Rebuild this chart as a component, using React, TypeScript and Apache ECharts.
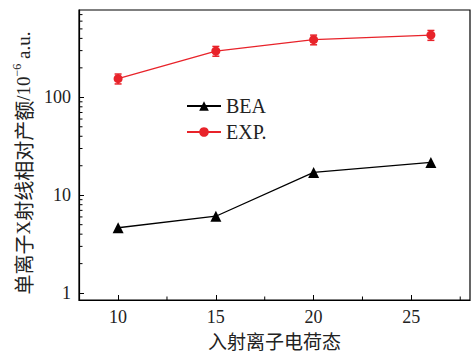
import React, { useEffect, useRef } from "react";
import * as echarts from "echarts";

const chargeStates = [10, 15, 20, 26];
const beaValues = [4.65, 6.1, 17.1, 21.6];
const expValues = [155, 297, 388, 432];
const expErrors = [18, 34, 44, 50];
const xTickValues = [10, 15, 20, 25];
const xMinorTicks = [12.5, 17.5, 22.5, 27.5];
const yMinorTicks = [2, 3, 4, 5, 6, 7, 8, 9, 20, 30, 40, 50, 60, 70, 80, 90, 200, 300, 400, 500, 600, 700];

const SERIF = "'Liberation Serif', 'Noto Sans CJK SC', serif";
const CJK = "'Noto Sans CJK SC', 'Liberation Serif', sans-serif";

export default function App() {
  const ref = useRef<HTMLDivElement>(null);
  useEffect(() => {
    if (!ref.current) return;
    const chart = echarts.init(ref.current, null, { renderer: "svg" });
    const X_MIN = 8;
    const X_MAX = 28;
    const option: any = {
      animation: false,
      backgroundColor: "#ffffff",
      grid: {
        left: 79,
        right: 2,
        top: 10,
        bottom: 51,
        show: true,
        borderColor: "#000",
        borderWidth: 1.2,
        containLabel: false,
        outerBoundsMode: "none",
      },
      legend: {
        left: 181,
        top: 91,
        orient: "vertical",
        itemWidth: 34,
        itemHeight: 12,
        itemGap: 6,
        data: ["BEA", "EXP."],
        textStyle: { fontFamily: SERIF, fontSize: 20, color: "#222" },
      },
      xAxis: {
        type: "value",
        min: X_MIN,
        max: X_MAX,
        name: "入射离子电荷态",
        nameLocation: "middle",
        nameGap: 26,
        nameTextStyle: { fontFamily: CJK, fontSize: 19, lineHeight: 19, color: "#222" },
        axisLine: { lineStyle: { color: "#000", width: 1.2 } },
        axisTick: { inside: true, length: 5, customValues: xTickValues, lineStyle: { color: "#000" } },
        axisLabel: { customValues: xTickValues, fontFamily: SERIF, fontSize: 18, color: "#222", margin: 8 },
        splitLine: { show: false },
      },
      yAxis: {
        type: "log",
        logBase: 10,
        min: 0.85,
        max: 780,
        name: "{c|单离子}{l|X}{c|射线相对产额}{l|/10}{s|−6}{l| a.u.}",
        nameLocation: "middle",
        nameGap: 43,
        nameTextStyle: {
          color: "#222",
          padding: [0, 16, 0, 0],
          rich: {
            c: { fontFamily: CJK, fontSize: 20, color: "#222", lineHeight: 22, verticalAlign: "bottom" },
            l: { fontFamily: SERIF, fontSize: 19, color: "#222", lineHeight: 22, verticalAlign: "bottom" },
            s: { fontFamily: SERIF, fontSize: 12, color: "#222", lineHeight: 22, verticalAlign: "top" },
          },
        },
        axisLine: { show: true, lineStyle: { color: "#000", width: 1.2 } },
        axisTick: { inside: true, length: 5, lineStyle: { color: "#000" } },
        axisLabel: {
          fontFamily: SERIF,
          fontSize: 18,
          color: "#222",
          margin: 8,
          showMaxLabel: false,
          showMinLabel: false,
        },
        splitLine: { show: false },
        minorTick: { show: false },
      },
      series: [
        {
          name: "BEA",
          type: "line",
          data: chargeStates.map((x, i) => [x, beaValues[i]]),
          symbol: "triangle",
          symbolSize: 11,
          itemStyle: { color: "#000" },
          lineStyle: { color: "#000", width: 1.3 },
          z: 3,
        },
        {
          name: "EXP.",
          type: "line",
          data: chargeStates.map((x, i) => [x, expValues[i]]),
          symbol: "circle",
          symbolSize: 9,
          itemStyle: { color: "#e8232a" },
          lineStyle: { color: "#e8232a", width: 1.3 },
          z: 3,
        },
        {
          name: "errors",
          type: "custom",
          data: chargeStates.map((x, i) => [x, expValues[i] - expErrors[i], expValues[i] + expErrors[i]]),
          encode: { x: 0, y: [1, 2] },
          renderItem: (params: any, api: any) => {
            const x = api.value(0);
            const lo = api.coord([x, api.value(1)]);
            const hi = api.coord([x, api.value(2)]);
            const w = 3.5;
            const style = { stroke: "#e8232a", lineWidth: 1.5 };
            return {
              type: "group",
              children: [
                { type: "line", shape: { x1: lo[0], y1: lo[1], x2: hi[0], y2: hi[1] }, style },
                { type: "line", shape: { x1: lo[0] - w, y1: lo[1], x2: lo[0] + w, y2: lo[1] }, style },
                { type: "line", shape: { x1: hi[0] - w, y1: hi[1], x2: hi[0] + w, y2: hi[1] }, style },
              ],
            };
          },
          z: 2,
        },
        {
          name: "yminor",
          type: "custom",
          data: yMinorTicks.map((v) => [X_MIN, v]),
          encode: { x: 0, y: 1 },
          clip: false,
          renderItem: (params: any, api: any) => {
            const p = api.coord([api.value(0), api.value(1)]);
            return {
              type: "line",
              shape: { x1: p[0], y1: p[1], x2: p[0] + 3.5, y2: p[1] },
              style: { stroke: "#000", lineWidth: 1 },
            };
          },
          silent: true,
          z: 5,
        },
        {
          name: "xminor",
          type: "custom",
          data: xMinorTicks.map((v) => [v, 0.85]),
          encode: { x: 0, y: 1 },
          clip: false,
          renderItem: (params: any, api: any) => {
            const p = api.coord([api.value(0), api.value(1)]);
            return {
              type: "line",
              shape: { x1: p[0], y1: p[1], x2: p[0], y2: p[1] - 3.5 },
              style: { stroke: "#000", lineWidth: 1 },
            };
          },
          silent: true,
          z: 5,
        },
      ],
    };
    chart.setOption(option);
    return () => chart.dispose();
  }, []);
  return (
    <div
      ref={ref}
      style={{ position: "fixed", left: 0, top: 0, width: 472, height: 351 }}
    />
  );
}
